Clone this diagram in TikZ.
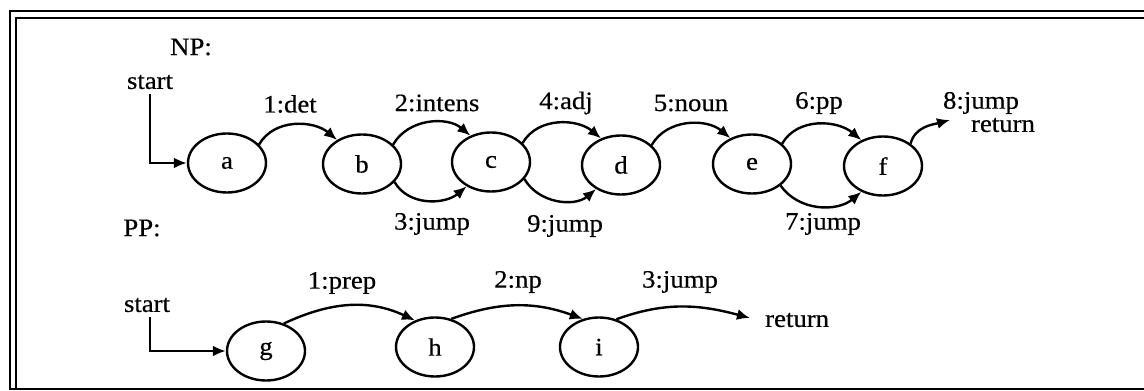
\documentclass[tikz,border=0pt]{standalone}
\usepackage{fontspec}
\setmainfont{Liberation Serif}[FakeStretch=1.07,FakeBold=0.5]
\usetikzlibrary{arrows.meta,shapes.geometric}
\begin{document}
\begin{tikzpicture}[x=1pt,y=1pt,
  state/.style={draw,ellipse,line width=2.4pt,minimum width=78pt,minimum height=59pt,inner sep=0pt,font=\fontsize{25}{25}\selectfont},
  lbl/.style={font=\fontsize{25}{25}\selectfont,inner sep=0pt},
  arc/.style={line width=2.4pt,-{Latex[length=13pt,width=11pt]}},
  rule/.style={line width=2.4pt}]
\useasboundingbox (0,0) rectangle (1144,391);

% double frame, open to the right
\draw[rule] (1150,380) -- (10,380) -- (10,2) -- (1150,2);
\draw[rule] (1150,373) -- (16,373) -- (16,2);

% ---- NP network ----
\node[lbl] (np) at (191,344) {NP:};
\node[lbl] (s1) at (150,309) {start};
\node[state] (a) at (227,228) {a};
\node[state] (b) at (362,227) {b};
\node[state] (c) at (491,229) {c};
\node[state] (d) at (621,226) {d};
\node[state] (e) at (752,227) {e};
\node[state] (f) at (883,225) {f};
\coordinate (t8) at (950,271);

\node[lbl] (l1) at (290,287) {1:det};
\node[lbl] (l2) at (437,288) {2:intens};
\node[lbl] (l4) at (566,288) {4:adj};
\node[lbl] (l5) at (691,288) {5:noun};
\node[lbl] (l6) at (819,288) {6:pp};
\node[lbl] (l8) at (981,288) {8:jump};
\node[lbl] (r1) at (1003,266) {return};
\node[lbl] (l3) at (432,167) {3:jump};
\node[lbl] (l9) at (565,165) {9:jump};
\node[lbl] (l7) at (823,167) {7:jump};

\draw[arc] ([yshift=-5pt]s1.south) |- (a);
\draw[arc] (a.30) to[out=60,in=140] (b.136);
\draw[arc] (b.32) to[out=60,in=140] (c.128);
\draw[arc] (b.-29) to[out=-60,in=-140] (c.-135);
\draw[arc] (c.31) to[out=60,in=140] (d.127);
\draw[arc] (c.-27) to[out=-60,in=-140] (d.-136);
\draw[arc] (d.33) to[out=60,in=140] (e.130);
\draw[arc] (e.34) to[out=60,in=140] (f.130);
\draw[arc] (e.-37) to[out=-55,in=-140] (f.-130);
\draw[arc] (f.39) to[out=75,in=195] (t8);

% ---- PP network ----
\node[lbl] (pp) at (142,163) {PP:};
\node[lbl] (s2) at (147,86) {start};
\node[state] (g) at (266,40) {g};
\node[state] (h) at (435,44) {h};
\node[state] (i) at (599,44) {i};
\coordinate (t3) at (750,73);

\node[lbl] (m1) at (342,108) {1:prep};
\node[lbl] (m2) at (518,109) {2:np};
\node[lbl] (m3) at (680,109) {3:jump};
\node[lbl,anchor=west] (r2) at (765,71) {return};

\draw[arc] ([xshift=3pt,yshift=-5pt]s2.south) |- (g);
\draw[arc] (g.57) to[out=25,in=155] (h.127);
\draw[arc] (h.60) to[out=20,in=160] (i.120);
\draw[arc] (i.58) to[out=20,in=165] (t3);
\end{tikzpicture}
\end{document}
